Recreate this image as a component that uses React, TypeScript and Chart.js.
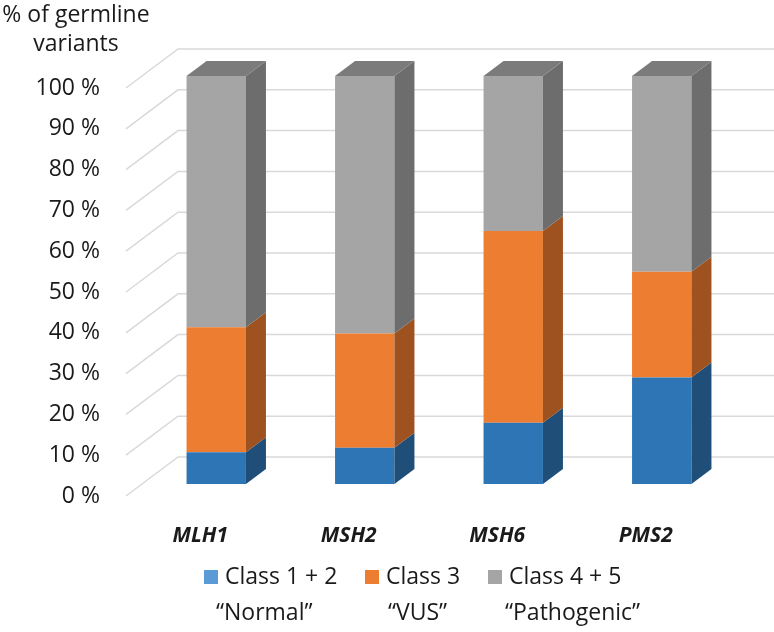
import React, { useEffect, useRef } from 'react';
import { Chart, registerables } from 'chart.js';

Chart.register(...registerables);

const genes = ['MLH1', 'MSH2', 'MSH6', 'PMS2'];
const class12 = [7.8, 8.9, 15.0, 26.1];
const class3 = [30.6, 28.0, 47.0, 25.9];
const class45 = [61.6, 63.1, 38.0, 48.0];
const seriesNames = ['Class 1 + 2', 'Class 3', 'Class 4 + 5'];
const seriesNotes = ['\u201CNormal\u201D', '\u201CVUS\u201D', '\u201CPathogenic\u201D'];
const titleLines = ['% of germline', 'variants'];
const yMax = 100;
const yStep = 10;

const FONT = "'Open Sans', 'Noto Sans', sans-serif";
const frontColors = ['#2e75b6', '#ed7d31', '#a5a5a5'];
const sideColors = ['#1f4e79', '#9d5220', '#6d6d6d'];
const topColors = ['#245d91', '#b5601f', '#7b7b7b'];
const legendColors = ['#5b9bd5', '#ed7d31', '#a5a5a5'];

// 3D geometry (pixels)
const BAR_DX = 20, BAR_DY = -15;
const FRONT_DX = -16, FRONT_DY = 12;
const BACK_DX = 36, BACK_DY = -27;

const wallsPlugin = {
  id: 'walls',
  beforeDatasetsDraw(chart: any) {
    const { ctx, chartArea, scales } = chart;
    const y = scales.y;
    ctx.save();
    ctx.strokeStyle = '#d9d9d9';
    ctx.lineWidth = 1.5;
    for (let v = 0; v <= yMax; v += yStep) {
      const py = y.getPixelForValue(v);
      ctx.beginPath();
      ctx.moveTo(chartArea.left + FRONT_DX, py + FRONT_DY);
      ctx.lineTo(chartArea.left + BACK_DX, py + BACK_DY);
      ctx.lineTo(chart.width, py + BACK_DY);
      ctx.stroke();
    }
    ctx.restore();
  },
  afterDatasetsDraw(chart: any) {
    const { ctx } = chart;
    ctx.save();
    const n = chart.data.datasets.length;
    for (let d = 0; d < n; d++) {
      const meta = chart.getDatasetMeta(d);
      meta.data.forEach((bar: any) => {
        const { x, y, base, width } = bar.getProps(['x', 'y', 'base', 'width'], true);
        const left = x - width / 2;
        const right = x + width / 2;
        const top = Math.min(y, base);
        const bottom = Math.max(y, base);
        ctx.fillStyle = sideColors[d];
        ctx.beginPath();
        ctx.moveTo(right, top);
        ctx.lineTo(right + BAR_DX, top + BAR_DY);
        ctx.lineTo(right + BAR_DX, bottom + BAR_DY);
        ctx.lineTo(right, bottom);
        ctx.closePath();
        ctx.fill();
        if (d === n - 1) {
          ctx.fillStyle = topColors[d];
          ctx.beginPath();
          ctx.moveTo(left, top);
          ctx.lineTo(left + BAR_DX, top + BAR_DY);
          ctx.lineTo(right + BAR_DX, top + BAR_DY);
          ctx.lineTo(right, top);
          ctx.closePath();
          ctx.fill();
        }
      });
    }
    ctx.restore();
  },
  afterDraw(chart: any) {
    const { ctx } = chart;
    ctx.save();
    ctx.fillStyle = '#1a1a1a';
    ctx.font = `23px ${FONT}`;
    ctx.textAlign = 'center';
    ctx.textBaseline = 'middle';
    ctx.fillText(titleLines[0], 76, 15);
    ctx.fillText(titleLines[1], 76, 44);

    // legend
    ctx.font = `23px ${FONT}`;
    ctx.textAlign = 'left';
    const boxX = [204, 365, 488];
    const rowY = 577;
    for (let i = 0; i < seriesNames.length; i++) {
      ctx.fillStyle = legendColors[i];
      ctx.fillRect(boxX[i], rowY - 7, 14, 14);
      ctx.fillStyle = '#1a1a1a';
      ctx.fillText(seriesNames[i], boxX[i] + 21, rowY);
    }
    const noteX = [216, 388, 505];
    for (let i = 0; i < seriesNotes.length; i++) {
      ctx.fillText(seriesNotes[i], noteX[i], 613);
    }
    ctx.restore();
  },
};

export default function App() {
  const ref = useRef<HTMLCanvasElement | null>(null);
  useEffect(() => {
    if (!ref.current) return;
    const datasets = [class12, class3, class45].map((vals, i) => ({
      label: seriesNames[i],
      data: vals,
      backgroundColor: frontColors[i],
      borderWidth: 0,
      categoryPercentage: 1,
      barPercentage: 0.4,
      clip: false as any,
    }));
    const chart = new Chart(ref.current, {
      type: 'bar',
      data: { labels: genes, datasets },
      options: {
        animation: false,
        responsive: false,
        layout: { padding: { top: 76, right: 38, bottom: 0, left: 0 } },
        plugins: { legend: { display: false }, tooltip: { enabled: false } },
        scales: {
          x: {
            stacked: true,
            grid: { display: false, drawTicks: false },
            border: { display: false },
            ticks: {
              color: '#1a1a1a',
              font: { family: FONT, size: 21, style: 'italic', weight: 'bold' },
              padding: 39,
              labelOffset: FRONT_DX,
            },
            afterFit: (s: any) => { s.height = 148; },
          },
          y: {
            stacked: true,
            min: 0,
            max: yMax,
            grid: { display: false, drawTicks: false },
            border: { display: false },
            ticks: {
              stepSize: yStep,
              color: '#1a1a1a',
              font: { family: FONT, size: 23 },
              padding: 42,
              labelOffset: FRONT_DY,
              callback: (v: any) => `${v} %`,
            },
            afterFit: (s: any) => { s.width = 142; },
          },
        },
      },
      plugins: [wallsPlugin],
    });
    return () => chart.destroy();
  }, []);
  return (
    <div style={{ position: 'fixed', left: 0, top: 0, width: 774, height: 632, background: '#fff' }}>
      <canvas ref={ref} width={774} height={632} style={{ display: 'block', width: 774, height: 632 }} />
    </div>
  );
}
